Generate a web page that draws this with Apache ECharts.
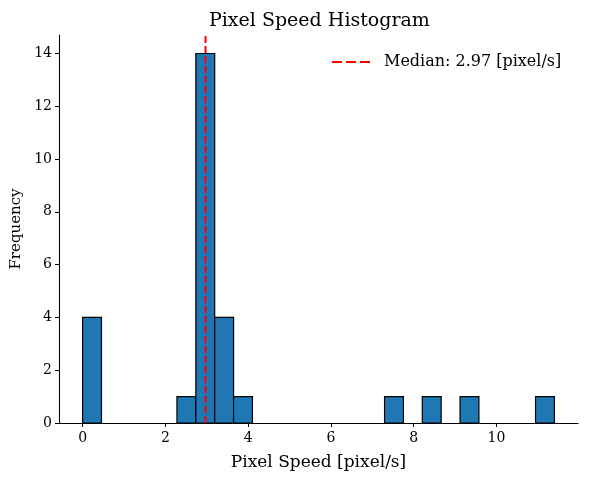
<!DOCTYPE html>
<html>
<head>
<meta charset="utf-8">
<script src="https://cdn.jsdelivr.net/npm/echarts@6/dist/echarts.min.js"></script>
<style>
  html, body { margin: 0; padding: 0; background: #fff; }
  #chart { width: 590px; height: 477px; }
</style>
</head>
<body>
<div id="chart"></div>
<script>
// Histogram bin edges (25 bins) and counts per bin
const binEdges = [0, 0.456, 0.912, 1.368, 1.824, 2.28, 2.736, 3.192, 3.648, 4.104,
  4.56, 5.016, 5.472, 5.928, 6.384, 6.84, 7.296, 7.752, 8.208, 8.664,
  9.12, 9.576, 10.032, 10.488, 10.944, 11.4];
const counts = [4, 0, 0, 0, 0, 1, 14, 4, 1, 0,
  0, 0, 0, 0, 0, 0, 1, 0, 1, 0,
  1, 0, 0, 0, 1];
const median = 2.97;
const xTicks = [0, 2, 4, 6, 8, 10];
const yTicks = [0, 2, 4, 6, 8, 10, 12, 14];

const FONT = 'DejaVu Serif';
const xMin = -0.57, xMax = 11.97, yMax = 14.7;

const bars = [];
for (let i = 0; i < counts.length; i++) {
  if (counts[i] > 0) bars.push([binEdges[i], binEdges[i + 1], counts[i]]);
}
const medianName = 'Median: ' + median.toFixed(2) + ' [pixel/s]';
// dashed-line legend glyph
const dashIcon = 'path://M0,0h10v2h-10z M14,0h10v2h-10z M28,0h10v2h-10z';

const chart = echarts.init(document.getElementById('chart'), null, { renderer: 'canvas' });
chart.setOption({
  animation: false,
  backgroundColor: '#fff',
  textStyle: { fontFamily: FONT },
  title: {
    text: 'Pixel Speed Histogram',
    left: 204, top: 7,
    textStyle: { fontFamily: FONT, fontSize: 19, fontWeight: 'normal', color: '#000' }
  },
  legend: {
    left: 332, top: 54, padding: 0,
    itemWidth: 38, itemHeight: 2.2, itemGap: 10,
    textStyle: { fontFamily: FONT, fontSize: 16, color: '#000', padding: [0, 0, 0, 9] },
    data: [{ name: medianName, icon: dashIcon }]
  },
  grid: { left: 59, right: 12, top: 35, bottom: 54, outerBoundsMode: 'none', containLabel: false },
  xAxis: {
    type: 'value', min: xMin, max: xMax,
    name: 'Pixel Speed [pixel/s]', nameLocation: 'middle', nameGap: 31,
    nameTextStyle: { fontFamily: FONT, fontSize: 17, color: '#000' },
    axisLine: { show: true, onZero: false, lineStyle: { color: '#000', width: 1.1 } },
    axisTick: { show: true, length: 4, customValues: xTicks, lineStyle: { color: '#000', width: 1 } },
    axisLabel: { customValues: xTicks, fontFamily: FONT, fontSize: 14, color: '#000', margin: 8 },
    splitLine: { show: false }
  },
  yAxis: {
    type: 'value', min: 0, max: yMax,
    name: 'Frequency', nameLocation: 'middle', nameGap: 34,
    nameTextStyle: { fontFamily: FONT, fontSize: 15, color: '#000' },
    axisLine: { show: true, onZero: false, lineStyle: { color: '#000', width: 1.1 } },
    axisTick: { show: true, length: 4, customValues: yTicks, lineStyle: { color: '#000', width: 1 } },
    axisLabel: { customValues: yTicks, fontFamily: FONT, fontSize: 14, color: '#000', margin: 7 },
    splitLine: { show: false }
  },
  series: [
    {
      type: 'custom',
      data: bars,
      encode: { x: [0, 1], y: 2 },
      renderItem: function (params, api) {
        const p0 = api.coord([api.value(0), 0]);
        const p1 = api.coord([api.value(1), api.value(2)]);
        return {
          type: 'rect',
          shape: { x: p0[0], y: p1[1], width: p1[0] - p0[0], height: p0[1] - p1[1] },
          style: { fill: '#1f77b4', stroke: '#000', lineWidth: 1.2 }
        };
      },
      z: 2
    },
    {
      name: medianName,
      type: 'line',
      data: [[median, 0], [median, yMax]],
      symbol: 'none',
      color: '#ff0000',
      lineStyle: { color: '#ff0000', width: 2, type: [7, 3] },
      z: 3
    }
  ]
});
</script>
</body>
</html>
